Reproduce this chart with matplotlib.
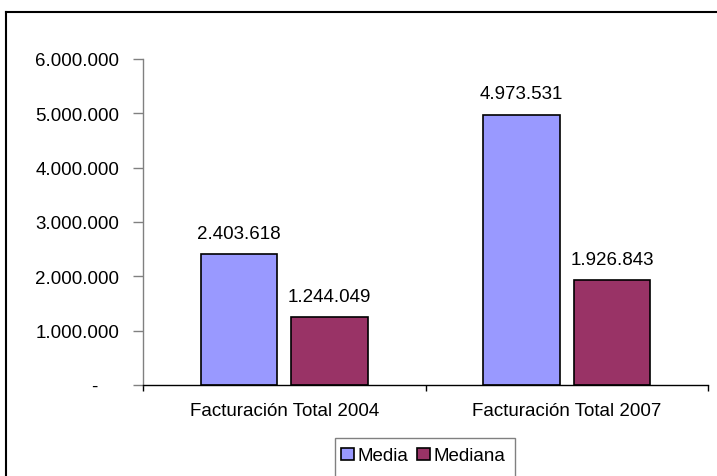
import matplotlib
matplotlib.use("Agg")
import matplotlib.pyplot as plt
from matplotlib.patches import Rectangle
import numpy as np

plt.rcParams['font.family'] = ['Liberation Sans', 'DejaVu Sans']

# datos
categorias = ["Facturación Total 2004", "Facturación Total 2007"]
media = [2403618, 4973531]
mediana = [1244049, 1926843]
series = ["Media", "Mediana"]
colores = ["#9999FF", "#993366"]

fs = 13.5


def miles(v):
    return f"{v:,.0f}".replace(",", ".")


fig = plt.figure(figsize=(7.17, 4.77), dpi=100)
ax = fig.add_axes([143 / 717, 1 - 386 / 477, 565 / 717, 326 / 477])

x = np.arange(len(categorias)) + 0.5
ancho = 0.272
desp = 0.16

b1 = ax.bar(x - desp, media, ancho, color=colores[0], edgecolor="black", linewidth=1.2, label=series[0])
b2 = ax.bar(x + desp, mediana, ancho, color=colores[1], edgecolor="black", linewidth=1.2, label=series[1])

for barras in (b1, b2):
    for r in barras:
        h = r.get_height()
        ax.annotate(miles(h), (r.get_x() + r.get_width() / 2, h),
                    xytext=(0, 12), textcoords="offset points",
                    ha="center", va="baseline", fontsize=fs)

ax.set_xlim(0, 2)
ax.set_ylim(0, 6000000)

yt = np.arange(0, 6000001, 1000000)
ax.set_yticks(yt)
ax.set_yticklabels(["-    "] + [miles(v) for v in yt[1:]])
ax.tick_params(axis="y", direction="out", length=7, width=1, pad=10, labelsize=fs, color="#808080")

ax.set_xticks([0, 1, 2])
ax.set_xticklabels([])
ax.set_xticks(x, minor=True)
ax.set_xticklabels(categorias, minor=True)
ax.tick_params(axis="x", which="major", direction="out", length=4, width=1)
ax.tick_params(axis="x", which="minor", length=0, pad=12, labelsize=fs)

for lado in ("top", "right"):
    ax.spines[lado].set_visible(False)
ax.spines["left"].set_color("#808080")
ax.spines["left"].set_linewidth(1)
ax.spines["bottom"].set_linewidth(1)

# marco exterior del grafico
fig.add_artist(plt.Line2D([6 / 717, 6 / 717], [0, 1 - 13 / 477], transform=fig.transFigure,
                          color="black", linewidth=1.5))
fig.add_artist(plt.Line2D([6 / 717, 1], [1 - 13 / 477, 1 - 13 / 477], transform=fig.transFigure,
                          color="black", linewidth=1.5))

# leyenda
fig.add_artist(Rectangle((335 / 717, -0.05), 180 / 717, 1 - 439 / 477 + 0.05,
                         transform=fig.transFigure, facecolor="white", edgecolor="#808080", linewidth=1))
fig.legend(handles=[b1, b2], loc="center", bbox_to_anchor=(423 / 717, 1 - 457 / 477),
           ncol=2, frameon=False, fontsize=fs, handlelength=0.7, handleheight=0.6,
           handletextpad=0.2, columnspacing=0.45)

fig.savefig("out.png", dpi=100)
